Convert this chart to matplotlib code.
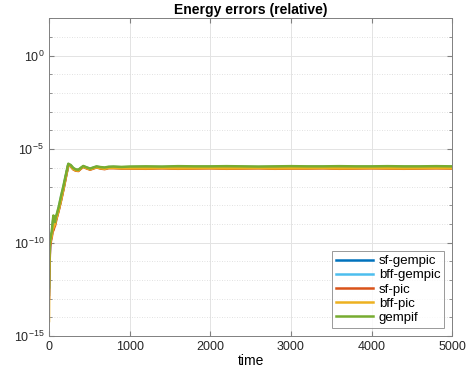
import numpy as np
import matplotlib.pyplot as plt

# time samples (early transient, then coarse steady part)
t_early = [0, 3, 8, 15, 25, 35, 45, 55, 65, 75, 85, 95, 120, 150, 180, 210, 240,
           270, 300, 330, 365, 395, 425, 465, 510, 550, 590, 640, 690, 740, 800, 900]
t_late = list(range(1000, 5001, 200))

# log10 of relative energy error
gempif_early = [-12.4, -11.0, -10.1, -9.9, -9.6, -9.4, -8.9, -8.55, -8.8, -8.9, -8.6, -8.5,
                -8.1, -7.5, -6.95, -6.35, -5.78, -5.85, -6.0, -6.08, -6.1, -6.0, -5.9,
                -5.97, -6.04, -5.98, -5.92, -5.96, -5.98, -5.94, -5.93, -5.95]
gempif_late = [-5.93, -5.92, -5.93, -5.91, -5.92, -5.92, -5.91, -5.92, -5.93, -5.92, -5.91,
               -5.92, -5.92, -5.91, -5.92, -5.92, -5.91, -5.92, -5.92, -5.91, -5.92]

sfpic_early = [-13.0, -12.2, -11.0, -10.2, -9.9, -9.7, -9.4, -9.35, -9.2, -9.1, -8.9, -8.7,
               -8.3, -7.75, -7.15, -6.5, -5.85, -5.92, -6.08, -6.15, -6.17, -6.05, -5.95,
               -6.03, -6.1, -6.04, -5.98, -6.04, -6.07, -6.02, -6.02, -6.04]
sfpic_late = [-6.04, -6.05, -6.03, -6.05, -6.04, -6.03, -6.05, -6.04, -6.03, -6.05, -6.04,
              -6.04, -6.03, -6.05, -6.04, -6.03, -6.04, -6.05, -6.04, -6.03, -6.04]

bffpic_early = [-14.2, -11.5, -10.3, -10.0, -9.8, -9.6, -9.3, -9.2, -9.1, -9.0, -8.8, -8.65,
                -8.25, -7.7, -7.1, -6.45, -5.83, -5.9, -6.06, -6.13, -6.15, -6.03, -5.94,
                -6.01, -6.08, -6.02, -5.97, -6.02, -6.05, -6.0, -6.0, -6.02]
bffpic_late = [-6.02, -6.03, -6.01, -6.03, -6.02, -6.01, -6.03, -6.02, -6.01, -6.03, -6.02,
               -6.02, -6.01, -6.03, -6.02, -6.01, -6.02, -6.03, -6.02, -6.01, -6.02]

sfgempic_early = [-12.8, -12.0, -10.8, -10.1, -9.8, -9.6, -9.3, -9.2, -9.1, -9.0, -8.8, -8.65,
                  -8.25, -7.7, -7.1, -6.45, -5.83, -5.9, -6.05, -6.12, -6.14, -6.03, -5.93,
                  -6.0, -6.07, -6.01, -5.96, -6.01, -6.04, -5.99, -5.99, -6.0]
sfgempic_late = [-6.0, -6.01, -5.99, -6.01, -6.0, -5.99, -6.01, -6.0, -5.99, -6.01, -6.0,
                 -6.0, -5.99, -6.01, -6.0, -5.99, -6.0, -6.01, -6.0, -5.99, -6.0]

bffgempic_early = [-12.6, -11.2, -10.2, -9.95, -9.7, -9.5, -9.0, -8.7, -8.9, -8.95, -8.7, -8.55,
                   -8.15, -7.55, -7.0, -6.4, -5.8, -5.87, -6.02, -6.1, -6.12, -6.01, -5.92,
                   -5.98, -6.05, -5.99, -5.94, -5.98, -6.0, -5.96, -5.95, -5.97]
bffgempic_late = [-5.96, -5.95, -5.96, -5.94, -5.95, -5.95, -5.94, -5.95, -5.96, -5.95, -5.94,
                  -5.95, -5.95, -5.94, -5.95, -5.95, -5.94, -5.95, -5.95, -5.94, -5.95]

labels = ['sf-gempic', 'bff-gempic', 'sf-pic', 'bff-pic', 'gempif']
colors = ['#0072BD', '#4DBEEE', '#D95319', '#EDB120', '#77AC30']

plt.rcParams['font.family'] = 'Liberation Sans'
plt.rcParams['mathtext.default'] = 'regular'

t = np.array(t_early + t_late)
series = [sfgempic_early + sfgempic_late,
          bffgempic_early + bffgempic_late,
          sfpic_early + sfpic_late,
          bffpic_early + bffpic_late,
          gempif_early + gempif_late]

fig = plt.figure(figsize=(4.71, 3.79), dpi=100)
ax = fig.add_axes([0.104, 0.1135, 0.856, 0.838])

for vals, lab, col in zip(series, labels, colors):
    ax.semilogy(t, 10.0 ** np.array(vals), color=col, lw=1.8, label=lab)

ax.set_xlim(0, 5000)
ax.set_ylim(1e-15, 1e2)
ax.set_xticks([0, 1000, 2000, 3000, 4000, 5000])
ax.set_yticks([1e-15, 1e-10, 1e-5, 1e0])
ax.set_yticklabels([r'$10^{-15}$', r'$10^{-10}$', r'$10^{-5}$', r'$10^{0}$'])
ax.set_yticks([10.0 ** k for k in range(-15, 3) if k % 5 != 0], minor=True)
ax.yaxis.set_minor_formatter(plt.NullFormatter())
ax.xaxis.set_minor_locator(plt.NullLocator())

ax.grid(True, which='major', color='#e3e3e3', lw=0.7)
ax.grid(True, which='minor', axis='y', color='#d8d8d8', lw=0.6, ls=(0, (1, 2)))
ax.set_axisbelow(True)

for s in ax.spines.values():
    s.set_color('#808080')
    s.set_linewidth(0.7)
ax.tick_params(which='both', direction='in', top=True, right=True, color='#808080',
               labelsize=9, labelcolor='#262626')
ax.tick_params(which='major', length=3.5)
ax.tick_params(which='minor', length=2)

ax.set_title('Energy errors (relative)', fontsize=10, fontweight='bold', pad=3)
ax.set_xlabel('time', fontsize=10, labelpad=1)

leg = ax.legend(loc='lower right', fontsize=9.5, frameon=True, fancybox=False,
                edgecolor='#808080', borderaxespad=0.6, handlelength=2.8,
                labelspacing=0.15, borderpad=0.3, handletextpad=0.4)
leg.get_frame().set_linewidth(0.7)

fig.savefig('out.png', dpi=100)
